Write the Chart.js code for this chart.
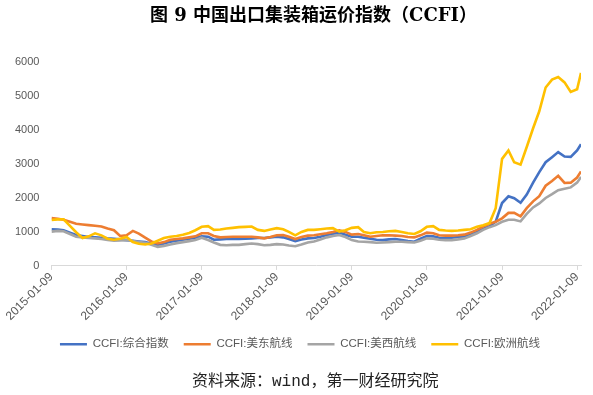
<!DOCTYPE html>
<html><head><meta charset="utf-8">
<script src="https://cdn.jsdelivr.net/npm/chart.js@4"></script>
<style>
html,body{margin:0;padding:0;background:#fff}
#wrap{width:593px;height:395px;position:relative;overflow:hidden}
#c{position:absolute;left:0;top:0}
#title{position:absolute;left:150px;top:4px;white-space:nowrap;font:bold 18px/22px "DejaVu Serif","Noto Sans CJK SC",serif;color:#000}
#foot{position:absolute;left:192px;top:372px;white-space:nowrap;font:16px/20px "Liberation Mono","Noto Sans CJK SC",monospace;color:#222}
</style>
</head><body><div id="wrap"><canvas id="c" width="593" height="395"></canvas>
<div id="title">图 9 中国出口集装箱运价指数（CCFI）</div>
<div id="foot">资料来源：wind，第一财经研究院</div>
</div>
<script>
const dates = [
'2015-01-09','2015-02-09','2015-03-09','2015-04-09','2015-05-09','2015-06-09','2015-07-09','2015-08-09','2015-09-09','2015-10-09','2015-11-09','2015-12-09',
'2016-01-09','2016-02-09','2016-03-09','2016-04-09','2016-05-09','2016-06-09','2016-07-09','2016-08-09','2016-09-09','2016-10-09','2016-11-09','2016-12-09',
'2017-01-09','2017-02-09','2017-03-09','2017-04-09','2017-05-09','2017-06-09','2017-07-09','2017-08-09','2017-09-09','2017-10-09','2017-11-09','2017-12-09',
'2018-01-09','2018-02-09','2018-03-09','2018-04-09','2018-05-09','2018-06-09','2018-07-09','2018-08-09','2018-09-09','2018-10-09','2018-11-09','2018-12-09',
'2019-01-09','2019-02-09','2019-03-09','2019-04-09','2019-05-09','2019-06-09','2019-07-09','2019-08-09','2019-09-09','2019-10-09','2019-11-09','2019-12-09',
'2020-01-09','2020-02-09','2020-03-09','2020-04-09','2020-05-09','2020-06-09','2020-07-09','2020-08-09','2020-09-09','2020-10-09','2020-11-09','2020-12-09',
'2021-01-09','2021-02-09','2021-03-09','2021-04-09','2021-05-09','2021-06-09','2021-07-09','2021-08-09','2021-09-09','2021-10-09','2021-11-09','2021-12-09',
'2022-01-09','2022-01-28'];

const composite = [
1080,1070,1050,980,910,880,850,840,830,810,800,780,
760,740,720,700,650,620,660,710,740,770,800,830,
870,860,770,780,790,790,790,800,810,820,820,840,
860,840,790,730,780,810,820,860,910,950,980,920,
860,860,830,800,770,760,780,790,760,730,710,800,
880,870,830,820,830,850,860,920,1000,1090,1170,1300,
1850,2050,1990,1860,2100,2450,2760,3050,3200,3350,3220,3210,
3400,3580];

const usEast = [
1410,1390,1360,1300,1240,1220,1200,1180,1160,1100,1050,880,
900,1030,950,830,720,660,700,770,790,810,840,870,
960,960,880,840,850,860,860,860,860,840,810,850,
900,910,860,790,850,890,900,930,960,1000,1050,1000,
920,940,900,860,880,900,900,890,880,850,840,900,
980,960,900,890,890,900,920,980,1060,1160,1240,1300,
1400,1560,1560,1460,1700,1900,2050,2360,2500,2650,2440,2450,
2600,2780];

const usWest = [
1010,1030,1020,940,860,840,820,810,790,760,740,750,
760,730,700,680,620,560,590,630,670,700,730,760,
830,760,690,620,610,620,620,640,660,640,610,620,
640,630,600,580,630,690,720,780,840,880,910,850,
760,720,710,700,680,690,700,710,710,700,690,740,
810,800,770,760,760,780,810,880,960,1060,1140,1200,
1300,1360,1360,1310,1530,1720,1840,2000,2110,2230,2270,2310,
2450,2620];

const europe = [
1350,1370,1370,1180,990,820,870,960,900,800,770,800,
850,700,650,630,660,740,820,860,880,920,970,1050,
1150,1170,1060,1070,1100,1120,1140,1150,1160,1060,1030,1070,
1110,1080,1000,900,1000,1060,1060,1080,1100,1110,1010,1050,
1120,1140,1000,960,990,1000,1020,1030,1000,960,940,1020,
1150,1170,1060,1040,1030,1040,1060,1080,1150,1200,1260,1700,
3150,3400,3050,2980,3500,4050,4550,5250,5480,5560,5400,5120,
5200,5680];

const seriesNames = ['CCFI:综合指数','CCFI:美东航线','CCFI:美西航线','CCFI:欧洲航线'];
const seriesColors = ['#4472C4','#ED7D31','#A5A5A5','#FFC000'];
const tickYears = [2015,2016,2017,2018,2019,2020,2021,2022];
const yTicks = [0,1000,2000,3000,4000,5000,6000];

const toMs = s => { const p = s.split('-').map(Number); return Date.UTC(p[0], p[1]-1, p[2]); };
const xs = dates.map(toMs);
const allSeries = [composite, usEast, usWest, europe];

const datasets = allSeries.map((vals, i) => ({
  label: seriesNames[i],
  data: vals.map((v, j) => ({x: xs[j], y: v})),
  borderColor: seriesColors[i],
  backgroundColor: seriesColors[i],
  borderWidth: 2.6,
  pointRadius: 0,
  tension: 0,
  order: 4 - i
}));

const pad2 = n => String(n).padStart(2,'0');

const legendShift = {
  id: 'legendShift',
  beforeDraw(chart) {
    const lg = chart.legend;
    if (lg && !lg._shifted) {
      const dx = 300 - (lg.left + lg.right) / 2;
      lg.left += dx; lg.right += dx; lg._shifted = true;
    }
  }
};

new Chart(document.getElementById('c'), {
  type: 'line',
  data: { datasets },
  plugins: [legendShift],
  options: {
    responsive: false,
    animation: false,
    layout: { autoPadding: false, padding: { left: 3, right: 12, top: 62, bottom: 35 } },
    plugins: {
      title: { display: false },
      legend: {
        position: 'bottom',
        labels: {
          usePointStyle: true,
          pointStyle: 'line',
          pointStyleWidth: 27,
          color: '#595959',
          font: { family: '"Liberation Sans", "Noto Sans CJK SC"', size: 11.5 },
          padding: 15,
          sort: (a, b) => a.datasetIndex - b.datasetIndex
        }
      },
      tooltip: { enabled: false }
    },
    scales: {
      x: {
        type: 'linear',
        min: xs[0],
        max: xs[xs.length - 1],
        afterBuildTicks: scale => { scale.ticks = tickYears.map(y => ({ value: Date.UTC(y, 0, 9) })); },
        ticks: {
          autoSkip: false,
          minRotation: 45,
          maxRotation: 45,
          color: '#595959',
          font: { family: '"Liberation Sans", "Noto Sans"', size: 12 },
          padding: 0,
          callback: v => { const d = new Date(v); return d.getUTCFullYear() + '-' + pad2(d.getUTCMonth()+1) + '-' + pad2(d.getUTCDate()); }
        },
        grid: { display: true, drawOnChartArea: false, drawTicks: true, tickLength: 4, color: '#D9D9D9' },
        border: { display: true, color: '#D9D9D9' }
      },
      y: {
        min: 0,
        max: 6000,
        afterBuildTicks: scale => { scale.ticks = yTicks.map(v => ({ value: v })); },
        ticks: {
          color: '#595959',
          font: { family: '"Liberation Sans", "Noto Sans"', size: 11 },
          padding: 12,
          callback: v => String(v)
        },
        grid: { display: false, drawTicks: false },
        border: { display: false }
      }
    }
  }
});
</script>
</body></html>
